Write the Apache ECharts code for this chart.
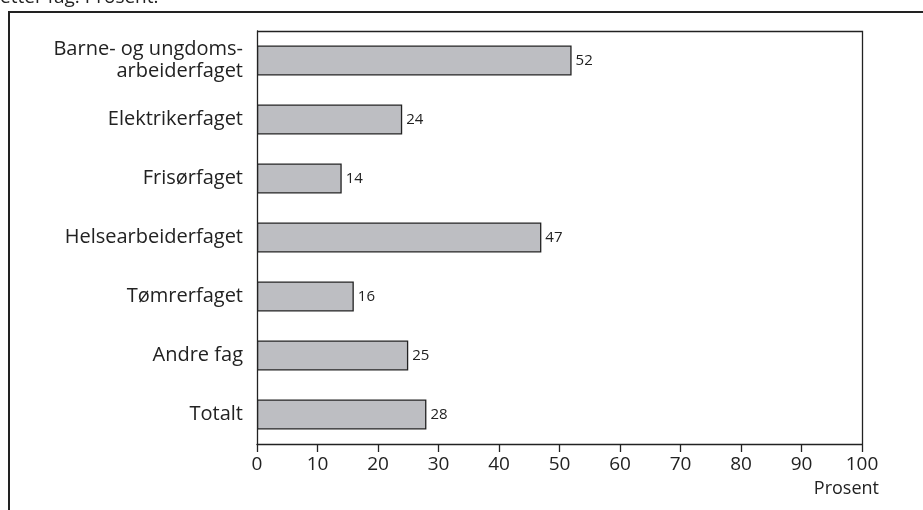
<!DOCTYPE html>
<html>
<head>
<meta charset="utf-8">
<script src="https://cdn.jsdelivr.net/npm/echarts@6/dist/echarts.min.js"></script>
<style>
  html, body { margin: 0; padding: 0; background: #fff; }
  #chart { width: 923px; height: 510px; }
</style>
</head>
<body>
<div id="chart"></div>
<script>
// categories from top to bottom, as in the picture
var categories = [
  'Barne- og ungdoms-\narbeiderfaget',
  'Elektrikerfaget',
  'Frisørfaget',
  'Helsearbeiderfaget',
  'Tømrerfaget',
  'Andre fag',
  'Totalt'
]
var values = [52, 24, 14, 47, 16, 25, 28]
var xTicks = [0, 10, 20, 30, 40, 50, 60, 70, 80, 90, 100]

var font = '"Open Sans", "Noto Sans", sans-serif'
var chart = echarts.init(document.getElementById('chart'), null, { renderer: 'canvas' })

chart.setOption({
  animation: false,
  textStyle: { fontFamily: font },
  grid: { left: 257, right: 61, top: 31, bottom: 66, containLabel: false },
  graphic: [
    {
      type: 'text',
      left: 0,
      top: -12,
      style: { text: 'etter fag. Prosent.', font: '19px ' + font, fill: '#222' }
    },
    {
      type: 'polyline',
      shape: { points: [[9, 520], [9, 12], [930, 12]] },
      style: { stroke: '#222', lineWidth: 2, fill: null }
    },
    {
      type: 'polyline',
      shape: { points: [[257, 31.5], [862.5, 31.5], [862.5, 444]] },
      style: { stroke: '#222', lineWidth: 1.3, fill: null }
    }
  ],
  xAxis: {
    type: 'value',
    min: xTicks[0],
    max: xTicks[xTicks.length - 1],
    interval: 10,
    name: 'Prosent',
    nameLocation: 'end',
    nameGap: 17,
    nameTextStyle: {
      fontSize: 18, color: '#222', align: 'right',
      verticalAlign: 'top', padding: [36, 0, 0, 0], fontFamily: font
    },
    axisLine: { show: true, lineStyle: { color: '#222', width: 1.3 } },
    axisTick: { show: true, length: 8, inside: false, lineStyle: { color: '#222', width: 1.3 } },
    axisLabel: { fontSize: 19, color: '#222', margin: 11, fontFamily: font },
    splitLine: { show: false }
  },
  yAxis: {
    type: 'category',
    data: categories,
    inverse: true,
    axisLine: { show: true, lineStyle: { color: '#222', width: 1.3 } },
    axisTick: { show: false },
    axisLabel: { fontSize: 20, color: '#222', margin: 14, lineHeight: 22, align: 'right', fontFamily: font }
  },
  series: [
    {
      type: 'bar',
      data: values,
      barWidth: 30,
      itemStyle: { color: '#bdbec2', borderColor: '#222', borderWidth: 1.3 },
      label: {
        show: true,
        position: 'right',
        distance: 4,
        fontSize: 15,
        color: '#222',
        fontFamily: font
      }
    }
  ]
})
</script>
</body>
</html>
